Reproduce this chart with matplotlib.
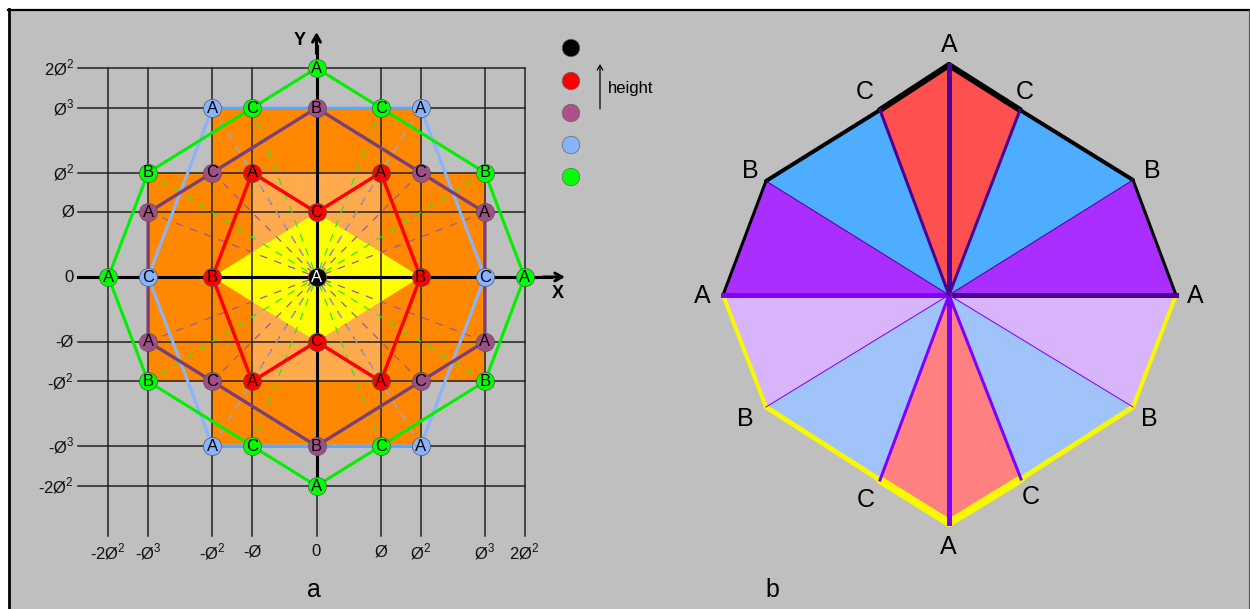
import matplotlib
matplotlib.use('Agg')
import matplotlib.pyplot as plt

plt.rcParams['font.family'] = ['Liberation Sans', 'DejaVu Sans']

# grid positions in panel a
grid_vals = [-5.236, -4.236, -2.618, -1.618, 0, 1.618, 2.618, 4.236, 5.236]
x_tick_labels = [r'-2Ø$^{\mathregular{2}}$', r'-Ø$^{\mathregular{3}}$', r'-Ø$^{\mathregular{2}}$', '-Ø', '0', 'Ø',
                 r'Ø$^{\mathregular{2}}$', r'Ø$^{\mathregular{3}}$', r'2Ø$^{\mathregular{2}}$']
y_tick_vals = [5.236, 4.236, 2.618, 1.618, 0, -1.618, -2.618, -4.236, -5.236]
y_tick_labels = [r'2Ø$^{\mathregular{2}}$', r'Ø$^{\mathregular{3}}$', r'Ø$^{\mathregular{2}}$', 'Ø', '0', '-Ø',
                 r'-Ø$^{\mathregular{2}}$', r'-Ø$^{\mathregular{3}}$', r'-2Ø$^{\mathregular{2}}$']

# filled regions of panel a
orange_x = [-2.618, 2.618, 2.618, 4.236, 4.236, 2.618, 2.618, -2.618, -2.618, -4.236, -4.236, -2.618]
orange_y = [4.236, 4.236, 2.618, 2.618, -2.618, -2.618, -4.236, -4.236, -2.618, -2.618, 2.618, 2.618]
light_x = [-1.618, 1.618, 1.618, -1.618]
light_y = [2.618, 2.618, -2.618, -2.618]
yellow_x = [-2.618, 0, 2.618, 0]
yellow_y = [0, 1.618, 0, -1.618]

# outlines (closed), panel a
red_x = [-2.618, -1.618, 0, 1.618, 2.618, 1.618, 0, -1.618, -2.618]
red_y = [0, 2.618, 1.618, 2.618, 0, -2.618, -1.618, -2.618, 0]
purple_x = [0, 2.618, 4.236, 4.236, 2.618, 0, -2.618, -4.236, -4.236, -2.618, 0]
purple_y = [4.236, 2.618, 1.618, -1.618, -2.618, -4.236, -2.618, -1.618, 1.618, 2.618, 4.236]
blue_x = [2.618, 4.236, 2.618, -2.618, -4.236, -2.618, 2.618]
blue_y = [4.236, 0, -4.236, -4.236, 0, 4.236, 4.236]
green_x = [0, 1.618, 4.236, 5.236, 4.236, 1.618, 0, -1.618, -4.236, -5.236, -4.236, -1.618, 0]
green_y = [5.236, 4.236, 2.618, 0, -2.618, -4.236, -5.236, -4.236, -2.618, 0, 2.618, 4.236, 5.236]

# labelled points: x, y, letter
black_pts = [(0, 0, 'A')]
red_pts = [(0, 1.618, 'C'), (0, -1.618, 'C'), (-2.618, 0, 'B'), (2.618, 0, 'B'),
           (-1.618, 2.618, 'A'), (1.618, 2.618, 'A'), (-1.618, -2.618, 'A'), (1.618, -2.618, 'A')]
purple_pts = [(0, 4.236, 'B'), (0, -4.236, 'B'),
              (-2.618, 2.618, 'C'), (2.618, 2.618, 'C'), (-2.618, -2.618, 'C'), (2.618, -2.618, 'C'),
              (-4.236, 1.618, 'A'), (4.236, 1.618, 'A'), (-4.236, -1.618, 'A'), (4.236, -1.618, 'A')]
blue_pts = [(-2.618, 4.236, 'A'), (2.618, 4.236, 'A'), (-2.618, -4.236, 'A'), (2.618, -4.236, 'A'),
            (-4.236, 0, 'C'), (4.236, 0, 'C')]
green_pts = [(0, 5.236, 'A'), (0, -5.236, 'A'), (-5.236, 0, 'A'), (5.236, 0, 'A'),
             (-1.618, 4.236, 'C'), (1.618, 4.236, 'C'), (-1.618, -4.236, 'C'), (1.618, -4.236, 'C'),
             (-4.236, 2.618, 'B'), (4.236, 2.618, 'B'), (-4.236, -2.618, 'B'), (4.236, -2.618, 'B')]

# panel b rim, clockwise from the top, offsets from the centre in pixels
rim_x = [0, 71, 184, 227, 184, 72, 0, -69, -183, -226, -183, -69]
rim_y = [230, 185, 115, 0, -112, -184, -228, -185, -112, 0, 114, 185]
rim_letters = ['A', 'C', 'B', 'A', 'B', 'C', 'A', 'C', 'B', 'A', 'B', 'C']
label_x = [0, 76, 203, 246, 200, 82, -1, -83, -204, -247, -199, -84]
label_y = [250, 203, 124, -1, -124, -202, -252, -205, -124, -1, 124, 203]
wedge_colors = ['#ff5050', '#4fadff', '#aa2eff', '#d8b4fa', '#a0c4fa', '#ff8080',
                '#ff8080', '#a0c4fa', '#d8b4fa', '#aa2eff', '#4fadff', '#ff5050']
edge_colors = ['black', 'black', 'black', '#f8f800', '#f8f800', '#f8f800',
               '#f8f800', '#f8f800', '#f8f800', 'black', 'black', 'black']
edge_widths = [6, 4, 3, 4, 5, 8, 8, 5, 4, 3, 4, 6]
spoke_colors = ['#4b0096', '#4b0096', '#4b0096', '#4b0096', '#7f00ff', '#7f00ff',
                '#7f00ff', '#7f00ff', '#7f00ff', '#7f00ff', '#4b0096', '#4b0096']
spoke_widths = [5, 3, 1, 5, 1, 3, 5, 3, 1, 5, 1, 3]

# legend
legend_colors = ['black', 'red', '#b0508a', '#88b4ff', '#00ff00']
GRAY = '#bfbfbf'
W, H = 1250, 609


def px_axes(fig, left, top, right, bottom):
    ax = fig.add_axes([left / W, 1 - bottom / H, (right - left) / W, (bottom - top) / H])
    ax.axis('off')
    return ax


fig = plt.figure(figsize=(12.5, 6.09), dpi=100, facecolor='white')

# background with frame
bg = px_axes(fig, 0, 0, W, H)
bg.set_xlim(0, W)
bg.set_ylim(H, 0)
bg.fill([9, 1249, 1249, 9], [10, 10, 609, 609], color=GRAY, lw=0)
bg.plot([9, 9], [9, 609], color='black', lw=2)
bg.plot([8, 1250], [10, 10], color='black', lw=1.6)
bg.plot([1249, 1249], [10, 609], color='#555555', lw=0.8)
bg.text(314, 590, 'a', fontsize=18, ha='center', va='center')
bg.text(772, 590, 'b', fontsize=18, ha='center', va='center')
bg.text(631, 88, 'height', fontsize=12, ha='center', va='center')
bg.annotate('', xy=(600, 64), xytext=(600, 109),
            arrowprops=dict(arrowstyle='->,head_width=0.2,head_length=0.35', color='black', lw=0.9, shrinkA=0, shrinkB=0))
bg.scatter([571] * 5, [48, 81, 113, 145, 177], s=160, c=legend_colors, edgecolors='#666666', linewidths=0.5)

# panel a
sx, sy = 39.75, 39.9
cx, cy = 316.5, 277
left, right, top, bottom = 0, 640, 15, 570
ax = px_axes(fig, left, top, right, bottom)
ax.set_xlim((left - cx) / sx, (right - cx) / sx)
ax.set_ylim((cy - bottom) / sy, (cy - top) / sy)

ax.fill(orange_x, orange_y, color='#ff8800', lw=0, zorder=1)
ax.fill(light_x, light_y, color='#ffaa4c', lw=0, zorder=2)
ax.fill(yellow_x, yellow_y, color='#ffff00', lw=0, zorder=3)

for v in grid_vals:
    ax.plot([v, v], [-6.49, 5.236], color='#222222', lw=1.1, zorder=4)
for v in y_tick_vals:
    ax.plot([-6.0, 5.236], [v, v], color='#222222', lw=1.1, zorder=4)

# dashed spokes to the centre
for pts, col in [(red_pts[4:], 'red'), (purple_pts[2:], '#9a5a9a'), (blue_pts[:4], '#80b0ff'),
                 (green_pts[4:], '#22ee22')]:
    for p in pts:
        ax.plot([p[0], 0], [p[1], 0], color=col, lw=0.9, ls=(0, (6, 6)), zorder=5)

# axes
ax.plot([-6.0, 5.9], [0, 0], color='black', lw=2.2, zorder=6)
ax.plot([0, 0], [-5.236, 5.8], color='black', lw=2.2, zorder=6)
head = dict(arrowstyle='->,head_width=0.28,head_length=0.5', color='black', lw=2.2, shrinkA=0, shrinkB=0)
ax.annotate('', xy=(6.25, 0), xytext=(5.7, 0), arrowprops=head, zorder=6)
ax.annotate('', xy=(0, 6.14), xytext=(0, 5.6), arrowprops=head, zorder=6)
ax.text(6.07, -0.41, 'X', fontsize=13, fontweight='bold', ha='center', va='center')
ax.text(-0.42, 5.93, 'Y', fontsize=13, fontweight='bold', ha='center', va='center')

# outlines
ax.plot(blue_x, blue_y, color='#88b4ff', lw=2.2, zorder=7)
ax.plot([-2.618, 2.618], [4.236, 4.236], color='#55aaff', lw=2.2, zorder=7)
ax.plot([-2.618, 2.618], [-4.236, -4.236], color='#55aaff', lw=2.2, zorder=7)
ax.plot(purple_x, purple_y, color='#7a3f7a', lw=2.4, zorder=8)
ax.plot(red_x, red_y, color='red', lw=2.5, zorder=9)
ax.plot(green_x, green_y, color='#00f000', lw=2.2, zorder=10)

# labelled markers
for pts, col, txt in [(black_pts, 'black', 'white'), (red_pts, 'red', 'black'), (purple_pts, '#a04f86', 'black'),
                      (blue_pts, '#88b4ff', 'black'), (green_pts, '#00ff00', 'black')]:
    for p in pts:
        ax.scatter(p[0], p[1], s=170, c=col, edgecolors='#555555', linewidths=0.5, zorder=11)
        ax.text(p[0], p[1] - 0.01, p[2], color=txt, fontsize=12, ha='center', va='center', zorder=12)

for v, lab in zip(grid_vals, x_tick_labels):
    ax.text(v, -6.88, lab, fontsize=12, ha='center', va='center', color='#111111')
for v, lab in zip(y_tick_vals, y_tick_labels):
    ax.text(-6.1, v, lab, fontsize=12, ha='right', va='center', color='#111111')

# panel b
bx, by = 949, 295
ax_b = px_axes(fig, bx - 270, by - 280, bx + 270, by + 280)
ax_b.set_xlim(-270, 270)
ax_b.set_ylim(-280, 280)

n = len(rim_x)
for i in range(n):
    j = (i + 1) % n
    ax_b.fill([0, rim_x[i], rim_x[j]], [0, rim_y[i], rim_y[j]], color=wedge_colors[i], lw=0, zorder=1)
for i in range(n):
    j = (i + 1) % n
    ax_b.plot([rim_x[i], rim_x[j]], [rim_y[i], rim_y[j]], color=edge_colors[i],
              lw=edge_widths[i] * 0.72, solid_capstyle='round', zorder=2)
for i in range(n):
    ax_b.plot([0, rim_x[i]], [0, rim_y[i]], color=spoke_colors[i], lw=spoke_widths[i] * 0.72, zorder=3)
    ax_b.text(label_x[i], label_y[i], rim_letters[i], fontsize=18, ha='center', va='center')

fig.savefig('out.png', dpi=100, facecolor='white')
